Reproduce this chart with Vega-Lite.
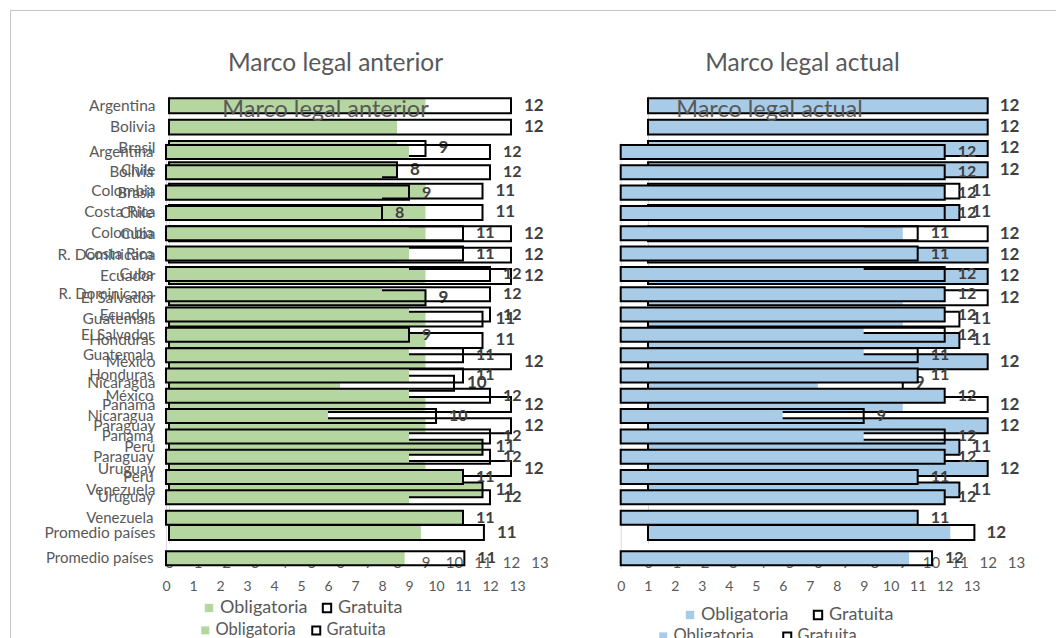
{
  "$schema": "https://vega.github.io/schema/vega-lite/v6.json",
  "width": 1050,
  "height": 630,
  "autosize": "none",
  "padding": {"left": 10, "top": 10, "right": 0, "bottom": 0},
  "background": "white",
  "config": {
    "font": "Lato",
    "view": {"stroke": "#c4c4c4", "strokeWidth": 1},
    "axis": {"grid": false, "ticks": false, "tickSize": 0, "labelColor": "#595959", "domainColor": "#d9d9d9", "labelFont": "Lato", "titleFont": "Lato", "labelOverlap": false, "labelFlush": false},
    "legend": {"labelFont": "Lato", "labelColor": "#595959"}
  },
  "datasets": {
    "anterior": [
      {"pais": "Argentina", "serie": "Obligatoria", "valor": 9}, {"pais": "Argentina", "serie": "Gratuita", "valor": 12},
      {"pais": "Bolivia", "serie": "Obligatoria", "valor": 8}, {"pais": "Bolivia", "serie": "Gratuita", "valor": 12},
      {"pais": "Brasil", "serie": "Obligatoria", "valor": 8}, {"pais": "Brasil", "serie": "Gratuita", "valor": 9},
      {"pais": "Chile", "serie": "Obligatoria", "valor": 8}, {"pais": "Chile", "serie": "Gratuita", "valor": 8},
      {"pais": "Colombia", "serie": "Obligatoria", "valor": 9}, {"pais": "Colombia", "serie": "Gratuita", "valor": 11},
      {"pais": "Costa Rica", "serie": "Obligatoria", "valor": 9}, {"pais": "Costa Rica", "serie": "Gratuita", "valor": 11},
      {"pais": "Cuba", "serie": "Obligatoria", "valor": 9}, {"pais": "Cuba", "serie": "Gratuita", "valor": 12},
      {"pais": "R. Dominicana", "serie": "Obligatoria", "valor": 8}, {"pais": "R. Dominicana", "serie": "Gratuita", "valor": 12},
      {"pais": "Ecuador", "serie": "Obligatoria", "valor": 9}, {"pais": "Ecuador", "serie": "Gratuita", "valor": 12},
      {"pais": "El Salvador", "serie": "Obligatoria", "valor": 9}, {"pais": "El Salvador", "serie": "Gratuita", "valor": 9},
      {"pais": "Guatemala", "serie": "Obligatoria", "valor": 9}, {"pais": "Guatemala", "serie": "Gratuita", "valor": 11},
      {"pais": "Honduras", "serie": "Obligatoria", "valor": 9}, {"pais": "Honduras", "serie": "Gratuita", "valor": 11},
      {"pais": "México", "serie": "Obligatoria", "valor": 9}, {"pais": "México", "serie": "Gratuita", "valor": 12},
      {"pais": "Nicaragua", "serie": "Obligatoria", "valor": 6}, {"pais": "Nicaragua", "serie": "Gratuita", "valor": 10},
      {"pais": "Panamá", "serie": "Obligatoria", "valor": 9}, {"pais": "Panamá", "serie": "Gratuita", "valor": 12},
      {"pais": "Paraguay", "serie": "Obligatoria", "valor": 9}, {"pais": "Paraguay", "serie": "Gratuita", "valor": 12},
      {"pais": "Perú", "serie": "Obligatoria", "valor": 11}, {"pais": "Perú", "serie": "Gratuita", "valor": 11},
      {"pais": "Uruguay", "serie": "Obligatoria", "valor": 9}, {"pais": "Uruguay", "serie": "Gratuita", "valor": 12},
      {"pais": "Venezuela", "serie": "Obligatoria", "valor": 11}, {"pais": "Venezuela", "serie": "Gratuita", "valor": 11},
      {"pais": "Promedio países", "serie": "Obligatoria", "valor": 8.84}, {"pais": "Promedio países", "serie": "Gratuita", "valor": 11.05}
    ],
    "actual": [
      {"pais": "Argentina", "serie": "Obligatoria", "valor": 12}, {"pais": "Argentina", "serie": "Gratuita", "valor": 12},
      {"pais": "Bolivia", "serie": "Obligatoria", "valor": 12}, {"pais": "Bolivia", "serie": "Gratuita", "valor": 12},
      {"pais": "Brasil", "serie": "Obligatoria", "valor": 12}, {"pais": "Brasil", "serie": "Gratuita", "valor": 12},
      {"pais": "Chile", "serie": "Obligatoria", "valor": 12}, {"pais": "Chile", "serie": "Gratuita", "valor": 12},
      {"pais": "Colombia", "serie": "Obligatoria", "valor": 9}, {"pais": "Colombia", "serie": "Gratuita", "valor": 11},
      {"pais": "Costa Rica", "serie": "Obligatoria", "valor": 11}, {"pais": "Costa Rica", "serie": "Gratuita", "valor": 11},
      {"pais": "Cuba", "serie": "Obligatoria", "valor": 9}, {"pais": "Cuba", "serie": "Gratuita", "valor": 12},
      {"pais": "R. Dominicana", "serie": "Obligatoria", "valor": 12}, {"pais": "R. Dominicana", "serie": "Gratuita", "valor": 12},
      {"pais": "Ecuador", "serie": "Obligatoria", "valor": 12}, {"pais": "Ecuador", "serie": "Gratuita", "valor": 12},
      {"pais": "El Salvador", "serie": "Obligatoria", "valor": 9}, {"pais": "El Salvador", "serie": "Gratuita", "valor": 12},
      {"pais": "Guatemala", "serie": "Obligatoria", "valor": 9}, {"pais": "Guatemala", "serie": "Gratuita", "valor": 11},
      {"pais": "Honduras", "serie": "Obligatoria", "valor": 11}, {"pais": "Honduras", "serie": "Gratuita", "valor": 11},
      {"pais": "México", "serie": "Obligatoria", "valor": 12}, {"pais": "México", "serie": "Gratuita", "valor": 12},
      {"pais": "Nicaragua", "serie": "Obligatoria", "valor": 6}, {"pais": "Nicaragua", "serie": "Gratuita", "valor": 9},
      {"pais": "Panamá", "serie": "Obligatoria", "valor": 9}, {"pais": "Panamá", "serie": "Gratuita", "valor": 12},
      {"pais": "Paraguay", "serie": "Obligatoria", "valor": 12}, {"pais": "Paraguay", "serie": "Gratuita", "valor": 12},
      {"pais": "Perú", "serie": "Obligatoria", "valor": 11}, {"pais": "Perú", "serie": "Gratuita", "valor": 11},
      {"pais": "Uruguay", "serie": "Obligatoria", "valor": 12}, {"pais": "Uruguay", "serie": "Gratuita", "valor": 12},
      {"pais": "Venezuela", "serie": "Obligatoria", "valor": 11}, {"pais": "Venezuela", "serie": "Gratuita", "valor": 11},
      {"pais": "Promedio países", "serie": "Obligatoria", "valor": 10.68}, {"pais": "Promedio países", "serie": "Gratuita", "valor": 11.53}
    ]
  },
  "layer": [
    {
      "data": {"name": "anterior"},
      "layer": [
        {
          "mark": {"type": "bar", "strokeWidth": 2},
          "encoding": {
            "y": {"field": "pais", "type": "nominal",
              "scale": {"domain": ["Argentina","Bolivia","Brasil","Chile","Colombia","Costa Rica","Cuba","R. Dominicana","Ecuador","El Salvador","Guatemala","Honduras","México","Nicaragua","Panamá","Paraguay","Perú","Uruguay","Venezuela"," ","Promedio países"], "range": [85.1, 533.2], "paddingInner": 0.3, "paddingOuter": 0.15},
              "axis": {"orient": "left", "offset": -159, "labelPadding": 14, "labelFontSize": 15.5, "title": null, "domain": true}},
            "x": {"field": "valor", "type": "quantitative", "stack": null,
              "scale": {"domain": [0, 13], "range": [159, 529.5], "nice": false},
              "axis": {"orient": "bottom", "offset": -96.8, "domain": false, "values": [0,1,2,3,4,5,6,7,8,9,10,11,12,13], "format": "d", "labelPadding": 12, "labelFontSize": 15, "title": "Marco legal anterior", "titleX": 325, "titleY": -480.2, "titleAlign": "center", "titleBaseline": "middle", "titleFontSize": 24.5, "titleFontWeight": "normal", "titleColor": "#595959"}},
            "fill": {"field": "serie", "type": "nominal", "scale": {"domain": ["Obligatoria","Gratuita"], "range": ["#b5d6a0","transparent"]},
              "legend": {"orient": "none", "legendX": 190, "legendY": 589, "direction": "horizontal", "title": null, "symbolType": "square", "symbolSize": 70, "symbolStrokeWidth": 2, "labelFontSize": 18, "columnPadding": 10, "labelOffset": 2, "padding": 0}},
            "stroke": {"field": "serie", "type": "nominal", "scale": {"domain": ["Obligatoria","Gratuita"], "range": ["transparent","#000000"]},
              "legend": {"orient": "none", "legendX": 190, "legendY": 589, "direction": "horizontal", "title": null, "symbolType": "square", "symbolSize": 70, "symbolStrokeWidth": 2, "labelFontSize": 18, "columnPadding": 10, "labelOffset": 2, "padding": 0}}
          }
        },
        {
          "transform": [{"filter": "datum.serie === 'Gratuita'"}],
          "mark": {"type": "text", "align": "left", "baseline": "middle", "dx": 13, "fontWeight": "bold", "fontSize": 17, "color": "#404040"},
          "encoding": {
            "y": {"field": "pais", "type": "nominal"},
            "x": {"field": "valor", "type": "quantitative", "stack": null},
            "text": {"field": "valor", "type": "quantitative", "format": ".0f"}
          }
        }
      ]
    },
    {
      "data": {"name": "actual"},
      "layer": [
        {
          "mark": {"type": "bar", "strokeWidth": 2},
          "encoding": {
            "y": {"field": "pais", "type": "nominal",
              "scale": {"domain": ["Argentina","Bolivia","Brasil","Chile","Colombia","Costa Rica","Cuba","R. Dominicana","Ecuador","El Salvador","Guatemala","Honduras","México","Nicaragua","Panamá","Paraguay","Perú","Uruguay","Venezuela"," ","Promedio países"], "range": [85.1, 533.2], "paddingInner": 0.3, "paddingOuter": 0.15},
              "axis": {"orient": "left", "offset": -638, "labels": false, "title": null, "domain": true}},
            "x": {"field": "valor", "type": "quantitative", "stack": null,
              "scale": {"domain": [0, 13], "range": [638, 1006], "nice": false},
              "axis": {"orient": "bottom", "offset": -96.8, "domain": false, "values": [0,1,2,3,4,5,6,7,8,9,10,11,12,13], "format": "d", "labelPadding": 12, "labelFontSize": 15, "title": "Marco legal actual", "titleX": 792, "titleY": -480.2, "titleAlign": "center", "titleBaseline": "middle", "titleFontSize": 24.5, "titleFontWeight": "normal", "titleColor": "#595959"}},
            "fill": {"field": "serie", "type": "nominal", "scale": {"domain": ["Obligatoria","Gratuita"], "range": ["#a8cbe8","transparent"]},
              "legend": {"orient": "none", "legendX": 671, "legendY": 596, "direction": "horizontal", "title": null, "symbolType": "square", "symbolSize": 70, "symbolStrokeWidth": 2, "labelFontSize": 18, "columnPadding": 20, "labelOffset": 2, "padding": 0}},
            "stroke": {"field": "serie", "type": "nominal", "scale": {"domain": ["Obligatoria","Gratuita"], "range": ["transparent","#000000"]},
              "legend": {"orient": "none", "legendX": 671, "legendY": 596, "direction": "horizontal", "title": null, "symbolType": "square", "symbolSize": 70, "symbolStrokeWidth": 2, "labelFontSize": 18, "columnPadding": 20, "labelOffset": 2, "padding": 0}}
          }
        },
        {
          "transform": [{"filter": "datum.serie === 'Gratuita'"}],
          "mark": {"type": "text", "align": "left", "baseline": "middle", "dx": 12, "fontWeight": "bold", "fontSize": 17, "color": "#404040"},
          "encoding": {
            "y": {"field": "pais", "type": "nominal"},
            "x": {"field": "valor", "type": "quantitative", "stack": null},
            "text": {"field": "valor", "type": "quantitative", "format": ".0f"}
          }
        }
      ]
    },
    {
      "data": {"name": "anterior"},
      "layer": [
        {
          "mark": {"type": "bar", "strokeWidth": 2},
          "encoding": {
            "y": {"field": "pais", "type": "nominal",
              "scale": {"domain": ["Argentina","Bolivia","Brasil","Chile","Colombia","Costa Rica","Cuba","R. Dominicana","Ecuador","El Salvador","Guatemala","Honduras","México","Nicaragua","Panamá","Paraguay","Perú","Uruguay","Venezuela"," ","Promedio países"], "range": [131.84, 558.46], "paddingInner": 0.31, "paddingOuter": 0.155},
              "axis": {"orient": "left", "offset": -156, "labelPadding": 13, "labelFontSize": 15, "title": null, "domain": true}},
            "x": {"field": "valor", "type": "quantitative", "stack": null,
              "scale": {"domain": [0, 13], "range": [156, 507], "nice": false},
              "axis": {"orient": "bottom", "offset": -71.54, "domain": false, "values": [0,1,2,3,4,5,6,7,8,9,10,11,12,13], "format": "d", "labelPadding": 11.5, "labelFontSize": 14, "title": "Marco legal anterior", "titleX": 315, "titleY": -458.5, "titleAlign": "center", "titleBaseline": "middle", "titleFontSize": 23.5, "titleFontWeight": "normal", "titleColor": "#595959", "zindex": 1}},
            "fill": {"field": "serie", "type": "nominal", "scale": {"domain": ["Obligatoria","Gratuita"], "range": ["#b5d6a0","transparent"]},
              "legend": {"orient": "none", "legendX": 187, "legendY": 612, "direction": "horizontal", "title": null, "symbolType": "square", "symbolSize": 64, "symbolStrokeWidth": 2, "labelFontSize": 16.5, "columnPadding": 12, "labelOffset": 2, "padding": 0}},
            "stroke": {"field": "serie", "type": "nominal", "scale": {"domain": ["Obligatoria","Gratuita"], "range": ["transparent","#000000"]},
              "legend": {"orient": "none", "legendX": 187, "legendY": 612, "direction": "horizontal", "title": null, "symbolType": "square", "symbolSize": 64, "symbolStrokeWidth": 2, "labelFontSize": 16.5, "columnPadding": 12, "labelOffset": 2, "padding": 0}}
          }
        },
        {
          "transform": [{"filter": "datum.serie === 'Gratuita'"}],
          "mark": {"type": "text", "align": "left", "baseline": "middle", "dx": 13, "fontWeight": "bold", "fontSize": 16, "color": "#404040"},
          "encoding": {
            "y": {"field": "pais", "type": "nominal"},
            "x": {"field": "valor", "type": "quantitative", "stack": null},
            "text": {"field": "valor", "type": "quantitative", "format": ".0f"}
          }
        }
      ]
    },
    {
      "data": {"name": "actual"},
      "layer": [
        {
          "mark": {"type": "bar", "strokeWidth": 2},
          "encoding": {
            "y": {"field": "pais", "type": "nominal",
              "scale": {"domain": ["Argentina","Bolivia","Brasil","Chile","Colombia","Costa Rica","Cuba","R. Dominicana","Ecuador","El Salvador","Guatemala","Honduras","México","Nicaragua","Panamá","Paraguay","Perú","Uruguay","Venezuela"," ","Promedio países"], "range": [131.84, 558.46], "paddingInner": 0.31, "paddingOuter": 0.155},
              "axis": {"orient": "left", "offset": -610.7, "labels": false, "title": null, "domain": true}},
            "x": {"field": "valor", "type": "quantitative", "stack": null,
              "scale": {"domain": [0, 13], "range": [610.7, 961.7], "nice": false},
              "axis": {"orient": "bottom", "offset": -71.54, "domain": false, "values": [0,1,2,3,4,5,6,7,8,9,10,11,12,13], "format": "d", "labelPadding": 11.5, "labelFontSize": 14, "title": "Marco legal actual", "titleX": 759, "titleY": -458.5, "titleAlign": "center", "titleBaseline": "middle", "titleFontSize": 23.5, "titleFontWeight": "normal", "titleColor": "#595959", "zindex": 1}},
            "fill": {"field": "serie", "type": "nominal", "scale": {"domain": ["Obligatoria","Gratuita"], "range": ["#a8cbe8","transparent"]},
              "legend": {"orient": "none", "legendX": 645, "legendY": 618, "direction": "horizontal", "title": null, "symbolType": "square", "symbolSize": 64, "symbolStrokeWidth": 2, "labelFontSize": 16.5, "columnPadding": 25, "labelOffset": 2, "padding": 0}},
            "stroke": {"field": "serie", "type": "nominal", "scale": {"domain": ["Obligatoria","Gratuita"], "range": ["transparent","#000000"]},
              "legend": {"orient": "none", "legendX": 645, "legendY": 618, "direction": "horizontal", "title": null, "symbolType": "square", "symbolSize": 64, "symbolStrokeWidth": 2, "labelFontSize": 16.5, "columnPadding": 25, "labelOffset": 2, "padding": 0}}
          }
        },
        {
          "transform": [{"filter": "datum.serie === 'Gratuita'"}],
          "mark": {"type": "text", "align": "left", "baseline": "middle", "dx": 13, "fontWeight": "bold", "fontSize": 16, "color": "#404040"},
          "encoding": {
            "y": {"field": "pais", "type": "nominal"},
            "x": {"field": "valor", "type": "quantitative", "stack": null},
            "text": {"field": "valor", "type": "quantitative", "format": ".0f"}
          }
        }
      ]
    }
  ],
  "resolve": {
    "scale": {"x": "independent", "y": "independent", "fill": "independent", "stroke": "independent"},
    "axis": {"x": "independent", "y": "independent"},
    "legend": {"fill": "independent", "stroke": "independent"}
  }
}
